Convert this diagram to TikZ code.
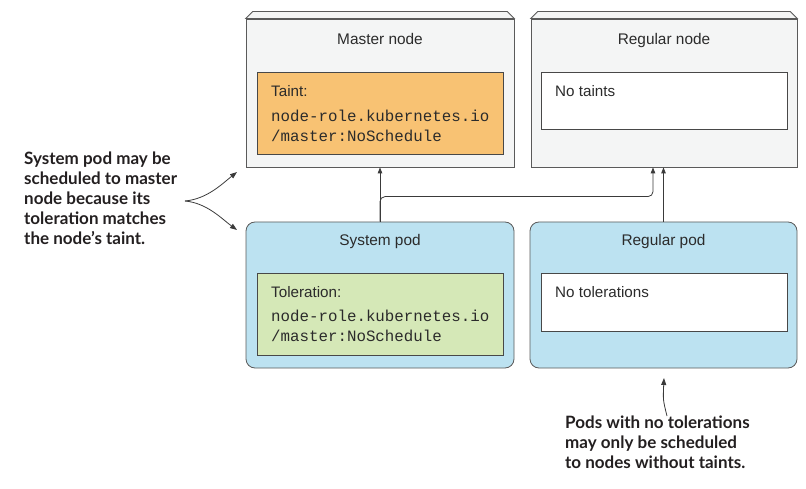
\documentclass[tikz,border=0pt]{standalone}
\usepackage{fontspec}
\setmainfont{Liberation Sans}
\setmonofont{Liberation Mono}
\newfontfamily\annfont{Lato}
\usetikzlibrary{arrows.meta,calc}
\definecolor{nodegray}{HTML}{F4F5F5}
\definecolor{boxline}{HTML}{5A5A5A}
\definecolor{podblue}{HTML}{BCE2F1}
\definecolor{taintorange}{HTML}{F8C273}
\definecolor{tolgreen}{HTML}{D5E8B7}
\definecolor{txtcol}{HTML}{2B2B2B}
\definecolor{anncol}{HTML}{231F20}
\definecolor{arrcol}{HTML}{3A3A3A}
\begin{document}
\begin{tikzpicture}[x=1pt,y=-1pt,
  nodebox/.style={draw=boxline, fill=nodegray, line width=0.8pt, inner sep=0pt, minimum height=148pt},
  podbox/.style={draw=boxline, fill=podblue, line width=0.8pt, inner sep=0pt, rounded corners=9pt, minimum height=146pt},
  inbox/.style={draw=boxline!80!black, line width=0.8pt, inner sep=0pt, minimum width=246pt},
  title/.style={font=\fontsize{15.4}{18}\selectfont, text=txtcol, inner sep=0pt, anchor=base},
  label/.style={font=\fontsize{15.2}{18}\selectfont, text=txtcol, inner sep=0pt, anchor=base west},
  code/.style={font=\fontsize{15.8}{19}\ttfamily, text=txtcol, inner sep=0pt, anchor=base west},
  ann/.style={font=\annfont\bfseries\fontsize{17}{20}\selectfont, text=anncol, inner sep=0pt, align=left, anchor=north west},
  arr/.style={draw=arrcol, line width=0.8pt, -{Triangle[length=6pt,width=4.5pt]}},
  annarr/.style={draw=arrcol, line width=0.8pt, -{Triangle[length=7pt,width=5pt]}}]
\useasboundingbox (0,0) rectangle (806,489);

% Master node
\node[nodebox, minimum width=268pt] (master) at (380,93) {};
\filldraw[fill=nodegray, draw=boxline, line width=0.8pt] (master.north west) -- ++(7,-7) -- ($(master.north east)+(-7,-7)$) -- (master.north east) -- cycle;
\node[title] (mastertitle) at (380,45) {Master node};
\node[inbox, fill=taintorange, minimum height=82pt] (taint) at (380,113) {};
\node[label] (tainttxt) at (271,96.5) {Taint:};
\node[code] (taintc1) at (271,121.5) {node-role.kubernetes.io};
\node[code] (taintc2) at (271,141.5) {/master:NoSchedule};

% Regular node
\node[nodebox, minimum width=266pt] (regnode) at (664,93) {};
\filldraw[fill=nodegray, draw=boxline, line width=0.8pt] (regnode.north west) -- ++(7,-7) -- ($(regnode.north east)+(-7,-7)$) -- (regnode.north east) -- cycle;
\node[title] (regnodetitle) at (664,45) {Regular node};
\node[inbox, fill=white, minimum height=57pt] (notaints) at (664,100.5) {};
\node[label] (notaintstxt) at (555,96.5) {No taints};

% System pod
\node[podbox, minimum width=268pt] (syspod) at (380,295) {};
\node[title] (syspodtitle) at (380,246) {System pod};
\node[inbox, fill=tolgreen, minimum height=82pt] (tol) at (380.5,314) {};
\node[label] (toltxt) at (271,297) {Toleration:};
\node[code] (tolc1) at (271,321.5) {node-role.kubernetes.io};
\node[code] (tolc2) at (271,341.5) {/master:NoSchedule};

% Regular pod
\node[podbox, minimum width=267pt] (regpod) at (663.5,295) {};
\node[title] (regpodtitle) at (663.5,246) {Regular pod};
\node[inbox, fill=white, minimum height=58pt] (notol) at (664,302) {};
\node[label] (notoltxt) at (555,297) {No tolerations};

% Connectors
\draw[arr] (syspod.north) -- (syspod.north |- master.south);
\draw[arr, rounded corners=5pt] (syspod.north) -- ++(0,-25) -| ([xshift=-11pt]regnode.south);
\draw[arr] (regpod.north) -- (regpod.north |- regnode.south);

% Annotations
\node[ann] (leftann) at (24,152) {System pod may be\\scheduled to master\\node because its\\toleration matches\\the node’s taint.};
\coordinate (lsrc) at (185,201);
\draw[annarr] (lsrc) .. controls (207,199) and (222,184) .. (237,172);
\draw[annarr] (lsrc) .. controls (207,203) and (222,219) .. (237,230);

\node[ann] (rightann) at (565,416) {Pods with no tolerations\\may only be scheduled\\to nodes without taints.};
\coordinate (bsrc) at (667,416);
\coordinate (btip) at (664,378);
\draw[annarr] (bsrc) .. controls (663,400) .. (btip);
\end{tikzpicture}
\end{document}
